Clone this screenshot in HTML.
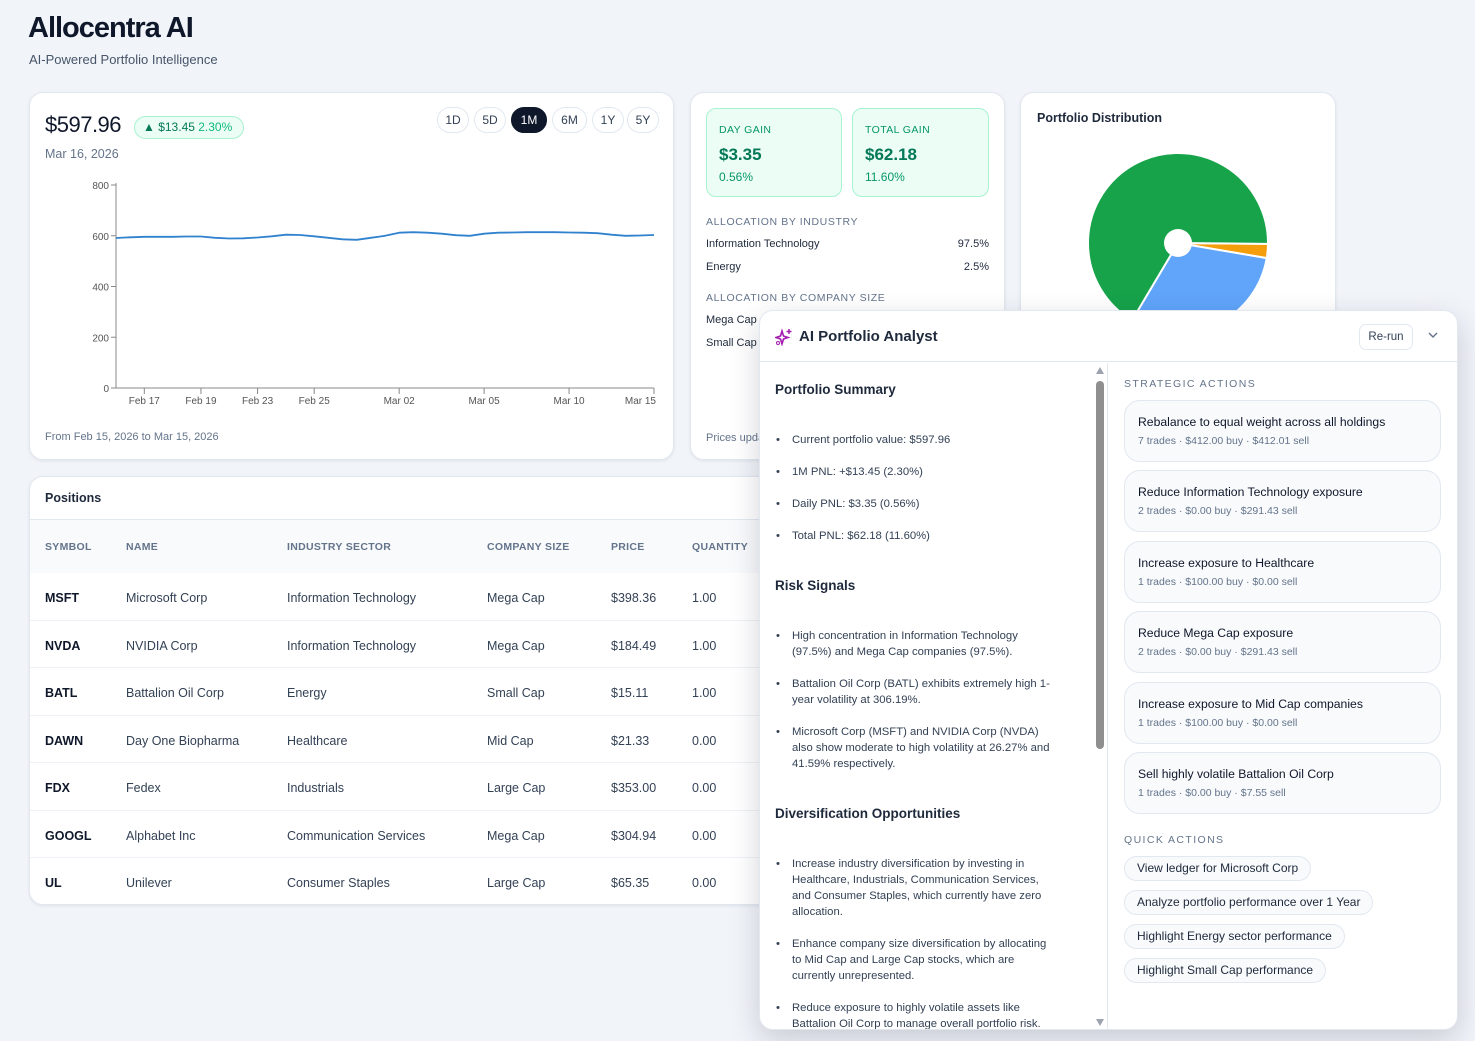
<!DOCTYPE html>
<html><head><meta charset="utf-8">
<style>
*{box-sizing:border-box;margin:0;padding:0}
body{width:1475px;height:1041px;overflow:hidden;background:#f1f4f9;font-family:"Liberation Sans",sans-serif;color:#0f172a;position:relative}
.abs{position:absolute}
.card{position:absolute;background:#fff;border:1px solid #e2e8f0;border-radius:14px;box-shadow:0 1px 3px rgba(15,23,42,.08)}
.pill{position:absolute;top:14px;height:26px;border:1px solid #e2e8f0;border-radius:13px;font-size:12px;color:#334155;text-align:center;line-height:24px;background:#fff}
.lbl{font-size:10.5px;letter-spacing:.6px;color:#64748b;font-weight:bold}
.row{position:absolute;left:0;width:100%;font-size:12.5px;color:#334155;border-bottom:1px solid #eef2f6;height:47.5px}
.row span{position:absolute;top:18px}
.act{position:absolute;left:16px;width:317px;height:62px;border:1px solid #e2e8f0;border-radius:16px;background:#f8fafc}
.act b{position:absolute;left:13px;top:14px;font-size:12.2px;font-weight:normal;color:#0f172a}
.act i{position:absolute;left:13px;top:34px;font-size:10.5px;font-style:normal;color:#64748b}
.qa{position:absolute;left:16px;height:25px;border:1px solid #e2e8f0;border-radius:13px;background:#f8fafc;font-size:12px;line-height:23px;padding:0 12px;color:#1e293b}
.ul li{position:absolute;left:32px;width:265px;font-size:11.3px;line-height:16px;color:#334155;list-style:none}
.ul li:before{content:"•";position:absolute;left:-16px;color:#334155}
.h4{position:absolute;left:15px;font-size:13.5px;font-weight:bold;color:#1e293b}
</style></head><body>
<div class="abs" style="left:28px;top:12px;font-size:29px;font-weight:bold;letter-spacing:-1px">Allocentra AI</div>
<div class="abs" style="left:29px;top:52px;font-size:13px;color:#475569">AI-Powered Portfolio Intelligence</div>

<div class="card" style="left:29px;top:92px;width:645px;height:368px">
 <div class="abs" style="left:15px;top:19px;font-size:22px;letter-spacing:-.5px">$597.96</div>
 <div class="abs" style="left:104px;top:23px;width:110px;height:23px;border:1px solid #a7f3d0;background:#ecfdf5;border-radius:12px;font-size:12px;line-height:21px;padding-left:8px;color:#047857">▲ $13.45 <span style="color:#10b981">2.30%</span></div>
 <div class="abs" style="left:15px;top:54px;font-size:12.5px;color:#64748b">Mar 16, 2026</div>
 <div class="pill" style="left:407px;width:32px">1D</div>
 <div class="pill" style="left:444px;width:32px">5D</div>
 <div class="pill" style="left:481px;width:36px;background:#0f172a;color:#fff;border-color:#0f172a">1M</div>
 <div class="pill" style="left:522px;width:35px">6M</div>
 <div class="pill" style="left:562px;width:32px">1Y</div>
 <div class="pill" style="left:597px;width:32px">5Y</div>
 <div class="abs" style="left:15px;top:338px;font-size:11px;color:#64748b">From Feb 15, 2026 to Mar 15, 2026</div>
</div>
<svg id="chart" class="abs" style="left:0;top:0" width="700" height="460"></svg>

<div class="card" style="left:690px;top:92px;width:315px;height:368px">
 <div class="abs" style="left:15px;top:15px;width:136px;height:89px;border:1px solid #a7f3d0;background:#ecfdf5;border-radius:10px">
  <div class="abs" style="left:12px;top:15px;font-size:10.5px;color:#059669;letter-spacing:.4px">DAY GAIN</div>
  <div class="abs" style="left:12px;top:36px;font-size:17px;font-weight:bold;color:#047857">$3.35</div>
  <div class="abs" style="left:12px;top:61px;font-size:12px;color:#059669">0.56%</div>
 </div>
 <div class="abs" style="left:161px;top:15px;width:137px;height:89px;border:1px solid #a7f3d0;background:#ecfdf5;border-radius:10px">
  <div class="abs" style="left:12px;top:15px;font-size:10.5px;color:#059669;letter-spacing:.4px">TOTAL GAIN</div>
  <div class="abs" style="left:12px;top:36px;font-size:17px;font-weight:bold;color:#047857">$62.18</div>
  <div class="abs" style="left:12px;top:61px;font-size:12px;color:#059669">11.60%</div>
 </div>
 <div class="abs lbl" style="left:15px;top:123px;font-weight:normal">ALLOCATION BY INDUSTRY</div>
 <div class="abs" style="left:15px;top:145px;font-size:11px;color:#1e293b">Information Technology</div>
 <div class="abs" style="right:15px;top:145px;font-size:11px;color:#1e293b">97.5%</div>
 <div class="abs" style="left:15px;top:168px;font-size:11px;color:#1e293b">Energy</div>
 <div class="abs" style="right:15px;top:168px;font-size:11px;color:#1e293b">2.5%</div>
 <div class="abs lbl" style="left:15px;top:199px;font-weight:normal">ALLOCATION BY COMPANY SIZE</div>
 <div class="abs" style="left:15px;top:221px;font-size:11px;color:#1e293b">Mega Cap</div>
 <div class="abs" style="left:15px;top:244px;font-size:11px;color:#1e293b">Small Cap</div>
 <div class="abs" style="left:15px;top:339px;font-size:11px;color:#64748b">Prices updated</div>
</div>

<div class="card" style="left:1020px;top:92px;width:316px;height:368px">
 <div class="abs" style="left:16px;top:18px;font-size:12.5px;font-weight:bold;color:#1e293b">Portfolio Distribution</div>
</div>
<svg id="pie" class="abs" style="left:1060px;top:130px" width="240" height="230"></svg>

<div class="card" style="left:29px;top:476px;width:1306px;height:429px;overflow:hidden">
 <div class="abs" style="left:15px;top:14px;font-size:12.5px;font-weight:bold;color:#1e293b">Positions</div>
 <div class="abs" style="left:0;top:42px;width:100%;height:54px;background:#f8fafc;border-top:1px solid #e2e8f0;font-size:10.5px;color:#64748b;font-weight:bold;letter-spacing:.3px">
  <span class="abs" style="left:15px;top:21px">SYMBOL</span><span class="abs" style="left:96px;top:21px">NAME</span><span class="abs" style="left:257px;top:21px">INDUSTRY SECTOR</span><span class="abs" style="left:457px;top:21px">COMPANY SIZE</span><span class="abs" style="left:581px;top:21px">PRICE</span><span class="abs" style="left:662px;top:21px">QUANTITY</span>
 </div>
 <div id="rows"></div>
</div>

<div class="abs" style="left:759px;top:310px;width:699px;height:720px;background:#fff;border:1px solid #e2e8f0;border-radius:14px;box-shadow:0 10px 30px rgba(15,23,42,.18);overflow:hidden">
 <div class="abs" style="left:0;top:0;width:100%;height:51px;border-bottom:1px solid #e2e8f0">
  <svg class="abs" style="left:15px;top:17px" width="18" height="18" viewBox="0 0 18 18"><path d="M7 3 L8.5 8 L13 9.5 L8.5 11 L7 16 L5.5 11 L1 9.5 L5.5 8Z" fill="none" stroke="#a21caf" stroke-width="1.6"/><path d="M14 1v5M11.5 3.5h5" stroke="#a21caf" stroke-width="1.5"/><circle cx="3" cy="15" r="1.5" fill="none" stroke="#a21caf"/></svg>
  <div class="abs" style="left:39px;top:17px;font-size:15px;font-weight:bold;color:#1e293b">AI Portfolio Analyst</div>
  <div class="abs" style="left:599px;top:13px;width:54px;height:26px;border:1px solid #e2e8f0;border-radius:7px;font-size:11.5px;line-height:24px;text-align:center;color:#334155">Re-run</div>
  <div class="abs" style="left:667px;top:17px;width:12px;height:12px"><svg width="12" height="12"><path d="M2 4l4 4 4-4" fill="none" stroke="#64748b" stroke-width="1.4"/></svg></div>
 </div>
 <div class="abs" style="left:0;top:52px;width:348px;height:668px;border-right:1px solid #e2e8f0">
  <div class="h4" style="top:19px">Portfolio Summary</div>
  <ul class="ul">
   <li style="top:69px">Current portfolio value: $597.96</li>
   <li style="top:101px">1M PNL: +$13.45 (2.30%)</li>
   <li style="top:133px">Daily PNL: $3.35 (0.56%)</li>
   <li style="top:165px">Total PNL: $62.18 (11.60%)</li>
  </ul>
  <div class="h4" style="top:215px">Risk Signals</div>
  <ul class="ul">
   <li style="top:265px">High concentration in Information Technology (97.5%) and Mega Cap companies (97.5%).</li>
   <li style="top:313px">Battalion Oil Corp (BATL) exhibits extremely high 1-year volatility at 306.19%.</li>
   <li style="top:361px">Microsoft Corp (MSFT) and NVIDIA Corp (NVDA) also show moderate to high volatility at 26.27% and 41.59% respectively.</li>
  </ul>
  <div class="h4" style="top:443px">Diversification Opportunities</div>
  <ul class="ul">
   <li style="top:493px">Increase industry diversification by investing in Healthcare, Industrials, Communication Services, and Consumer Staples, which currently have zero allocation.</li>
   <li style="top:573px">Enhance company size diversification by allocating to Mid Cap and Large Cap stocks, which are currently unrepresented.</li>
   <li style="top:637px">Reduce exposure to highly volatile assets like Battalion Oil Corp to manage overall portfolio risk.</li>
  </ul>
  <div class="abs" style="left:336px;top:4px;width:0;height:0;border-left:4px solid transparent;border-right:4px solid transparent;border-bottom:7px solid #9ca3af"></div>
  <div class="abs" style="left:336px;top:18px;width:8px;height:368px;border-radius:4px;background:#8f8f8f"></div>
  <div class="abs" style="left:336px;top:656px;width:0;height:0;border-left:4px solid transparent;border-right:4px solid transparent;border-top:7px solid #9ca3af"></div>
 </div>
 <div class="abs" style="left:348px;top:52px;width:350px;height:668px">
  <div class="abs lbl" style="left:16px;top:15px;letter-spacing:1.4px;font-weight:normal">STRATEGIC ACTIONS</div>
  <div class="act" style="top:37px"><b>Rebalance to equal weight across all holdings</b><i>7 trades · $412.00 buy · $412.01 sell</i></div>
  <div class="act" style="top:107px"><b>Reduce Information Technology exposure</b><i>2 trades · $0.00 buy · $291.43 sell</i></div>
  <div class="act" style="top:178px"><b>Increase exposure to Healthcare</b><i>1 trades · $100.00 buy · $0.00 sell</i></div>
  <div class="act" style="top:248px"><b>Reduce Mega Cap exposure</b><i>2 trades · $0.00 buy · $291.43 sell</i></div>
  <div class="act" style="top:319px"><b>Increase exposure to Mid Cap companies</b><i>1 trades · $100.00 buy · $0.00 sell</i></div>
  <div class="act" style="top:389px"><b>Sell highly volatile Battalion Oil Corp</b><i>1 trades · $0.00 buy · $7.55 sell</i></div>
  <div class="abs lbl" style="left:16px;top:471px;letter-spacing:1.4px;font-weight:normal">QUICK ACTIONS</div>
  <div class="qa" style="top:493px">View ledger for Microsoft Corp</div>
  <div class="qa" style="top:527px">Analyze portfolio performance over 1 Year</div>
  <div class="qa" style="top:561px">Highlight Energy sector performance</div>
  <div class="qa" style="top:595px">Highlight Small Cap performance</div>
 </div>
</div>

<script>
// ---- line chart data ----
const dayLabels = ["Feb 15","Feb 16","Feb 17","Feb 17b","Feb 18","Feb 18b","Feb 19","Feb 19b","Feb 20","Feb 20b","Feb 23","Feb 23b","Feb 24","Feb 24b","Feb 25","Feb 25b","Feb 26","Feb 26b","Feb 27","Feb 27b","Mar 02","Mar 02b","Mar 03","Mar 03b","Mar 04","Mar 04b","Mar 05","Mar 05b","Mar 06","Mar 06b","Mar 09","Mar 09b","Mar 10","Mar 10b","Mar 11","Mar 12","Mar 13","Mar 14","Mar 15"];
const values = [591,594,596,596,596,597,597,592,589,590,593,598,604,603,598,592,586,584,592,600,612,614,612,608,602,600,608,612,613,614,614,614,613,612,610,604,600,601,603];
const tickIdx = [2,6,10,14,20,26,32,38];
const tickText = ["Feb 17","Feb 19","Feb 23","Feb 25","Mar 02","Mar 05","Mar 10","Mar 15"];
const yTicks = [0,200,400,600,800];

const NS="http://www.w3.org/2000/svg";
function mk(p,t,a){const e=document.createElementNS(NS,t);for(const k in a)e.setAttribute(k,a[k]);p.appendChild(e);return e;}
const svg=document.getElementById('chart');
const X0=116,X1=654,Y0=388,Y1=185;
const xs=i=>X0+(X1-X0)*i/(values.length-1);
const ys=v=>Y0-(Y0-Y1)*v/800;
const yax=mk(svg,'line',{x1:X0,y1:Y1-2,x2:X0,y2:Y0,stroke:'#888','stroke-width':1});


const xax=mk(svg,'line',{x1:X0-4,y1:Y0,x2:X1,y2:Y0,stroke:'#888','stroke-width':1});


yTicks.forEach(v=>{
 mk(svg,'line',{x1:X0-5,y1:ys(v),x2:X0,y2:ys(v),stroke:'#888'});
 const t=mk(svg,'text',{x:X0-7,y:ys(v)+4,'text-anchor':'end','font-size':10,fill:'#555','font-family':'Liberation Sans'});
 t.textContent=v;
 
 
});
tickIdx.forEach((ix,k)=>{
 const x=xs(ix);
 mk(svg,'line',{x1:x,y1:Y0,x2:x,y2:Y0+6,stroke:'#888'});
 const t=mk(svg,'text',{x:k==tickIdx.length-1?x+2:x,y:Y0+16,'text-anchor':k==tickIdx.length-1?'end':'middle','font-size':10,fill:'#555','font-family':'Liberation Sans'});
 t.textContent=tickText[k];
 
 
});
let d='';
values.forEach((v,i)=>{d+=(i?'L':'M')+xs(i).toFixed(1)+' '+ys(v).toFixed(1);});
const ln=mk(svg,'path',{d:d,fill:'none',stroke:'#3182ce','stroke-width':1.8,'stroke-linejoin':'round'});



// ---- pie data ----
const pieLabels=["BATL","NVDA","MSFT"];
const pieValues=[15.11,184.49,398.36];
const pieColors=["#f59e0b","#60a5fa","#16a34a"];
const pie=document.getElementById('pie');
const cx=118,cy=113,R=90;
const tot=pieValues.reduce((a,b)=>a+b,0);
let a0=0.01;
pieValues.forEach((v,i)=>{
 const a1=a0+2*Math.PI*v/tot;
 const big=(a1-a0)>Math.PI?1:0;
 const p=`M${cx} ${cy} L${cx+R*Math.cos(a0)} ${cy+R*Math.sin(a0)} A${R} ${R} 0 ${big} 1 ${cx+R*Math.cos(a1)} ${cy+R*Math.sin(a1)}Z`;
 const s=mk(pie,'path',{d:p,fill:pieColors[i],stroke:'#fff','stroke-width':2});
 
 
 a0=a1;
});
mk(pie,'circle',{cx:cx,cy:cy,r:14,fill:'#fff'});

// ---- table rows ----
const rows=[["MSFT","Microsoft Corp","Information Technology","Mega Cap","$398.36","1.00"],["NVDA","NVIDIA Corp","Information Technology","Mega Cap","$184.49","1.00"],["BATL","Battalion Oil Corp","Energy","Small Cap","$15.11","1.00"],["DAWN","Day One Biopharma","Healthcare","Mid Cap","$21.33","0.00"],["FDX","Fedex","Industrials","Large Cap","$353.00","0.00"],["GOOGL","Alphabet Inc","Communication Services","Mega Cap","$304.94","0.00"],["UL","Unilever","Consumer Staples","Large Cap","$65.35","0.00"]];
const colX=[15,96,257,457,581,662];
const host=document.getElementById('rows');
rows.forEach((r,i)=>{
 const div=document.createElement('div');
 div.className='row';
 div.style.top=(96+i*47.5)+'px';
 
 
 r.forEach((c,j)=>{const s=document.createElement('span');s.style.left=colX[j]+'px';if(j==0){s.style.fontWeight='bold';s.style.color='#0f172a';}s.textContent=c;div.appendChild(s);});
 host.appendChild(div);
});
</script>
</body></html>
